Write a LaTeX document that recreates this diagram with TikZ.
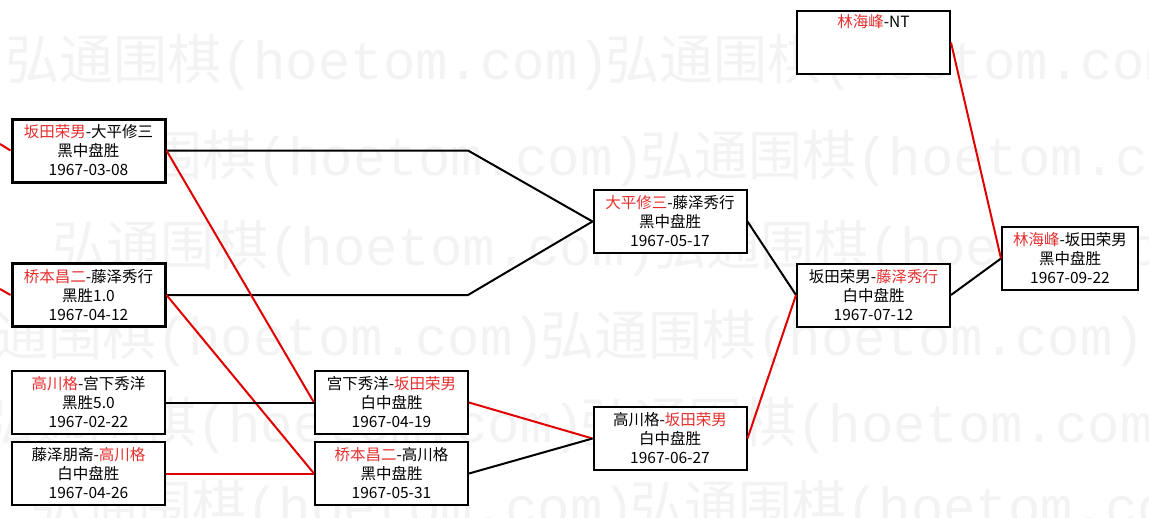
\documentclass[tikz,border=0pt]{standalone}
\usepackage{fontspec}
\setmainfont{Noto Sans CJK SC}
\newfontfamily\wmono{Liberation Mono}
\usepackage{tikz}
\usetikzlibrary{positioning}
\definecolor{cWin}{HTML}{E00000}
\definecolor{cName}{HTML}{E53030}
\definecolor{cMark}{HTML}{F3F3F3}
\tikzset{
  game/.style={draw=black, line width=2pt, fill=white, minimum width=153pt,
               minimum height=63pt, inner sep=0pt, align=center,
               font=\fontsize{15.5}{19}\selectfont},
  seedgame/.style={game, line width=3pt},
  win/.style={cWin, line width=2pt},
  lose/.style={black, line width=2pt},
  wmark/.style={text=cMark, font=\fontsize{54}{54}\selectfont, anchor=west, inner sep=0pt}
}
\newcommand{\wn}[1]{\textcolor{cName}{#1}}

\begin{document}
\begin{tikzpicture}[x=1pt, y=-1pt]
\useasboundingbox (0,0) rectangle (1149,517);
% watermark rows
\foreach \wy/\wx in {62/5, 158/40, 248/52, 338/-60, 425/-20, 508/30} {
  \node[wmark] at (\wx,\wy) {弘通围棋{\wmono(hoetom.com)}};
  \node[wmark] at (\wx+600,\wy) {弘通围棋{\wmono(hoetom.com)}};
}
% first round
\node[seedgame] (sk) at (88.5,150.5) {\wn{坂田荣男}-大平修三\\黑中盘胜\\1967-03-08};
\node[seedgame] (hf) at (88.5,295) {\wn{桥本昌二}-藤泽秀行\\黑胜1.0\\1967-04-12};
\node[game] (tm) at (88.5,402.5) {\wn{高川格}-宫下秀洋\\黑胜5.0\\1967-02-22};
\node[game] (ft) at (88.5,473.5) {藤泽朋斋-\wn{高川格}\\白中盘胜\\1967-04-26};
% second round
\node[game] (ms) at (391.5,402.5) {宫下秀洋-\wn{坂田荣男}\\白中盘胜\\1967-04-19};
\node[game] (ht) at (391.5,473.5) {\wn{桥本昌二}-高川格\\黑中盘胜\\1967-05-31};
% third round
\node[game] (of) at (670,221.5) {\wn{大平修三}-藤泽秀行\\黑中盘胜\\1967-05-17};
\node[game] (ts) at (670,438.5) {高川格-\wn{坂田荣男}\\白中盘胜\\1967-06-27};
% final
\node[game] (sf) at (873.5,295) {坂田荣男-\wn{藤泽秀行}\\白中盘胜\\1967-07-12};
\node[game] (ln) at (873.5,42.5) {\wn{林海峰}-NT\\\strut\\\strut};
\node[game, minimum width=136pt] (ls) at (1070,258.5) {\wn{林海峰}-坂田荣男\\黑中盘胜\\1967-09-22};
% free ends
\coordinate (insk) at (0,144);
\coordinate (inhf) at (0,289);
\coordinate (ksk) at (468,150.5);
\coordinate (khf) at (468,295);
% connectors
\draw[win] (insk) -- (sk.west);
\draw[win] (inhf) -- (hf.west);
\draw[lose] (sk.east) -- (ksk) -- (of.west);
\draw[lose] (hf.east) -- (khf) -- (of.west);
\draw[win] (sk.east) -- (ms.west);
\draw[win] (hf.east) -- (ht.west);
\draw[lose] (tm.east) -- (ms.west);
\draw[win] (ft.east) -- (ht.west);
\draw[win] (ms.east) -- (ts.west);
\draw[lose] (ht.east) -- (ts.west);
\draw[lose] (of.east) -- (sf.west);
\draw[win] (ts.east) -- (sf.west);
\draw[lose] (sf.east) -- (ls.west);
\draw[win] (ln.east) -- (ls.west);
\end{tikzpicture}
\end{document}
